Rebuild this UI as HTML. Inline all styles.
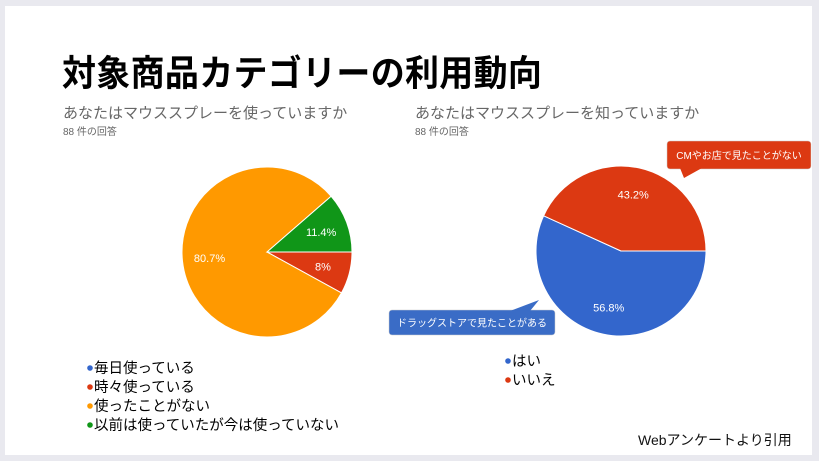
<!DOCTYPE html>
<html><head><meta charset="utf-8"><style>
html,body{margin:0;padding:0;}
body{width:819px;height:461px;background:#e9e9ef;position:relative;overflow:hidden;font-family:"Liberation Sans","Noto Sans CJK JP",sans-serif;}
#card{position:absolute;left:5px;top:6px;width:807px;height:449px;background:#fff;}
.t{position:absolute;white-space:nowrap;}
</style></head><body>
<div id="card"></div>
<div class="t" style="left:62px;top:46px;font-size:34px;font-weight:bold;color:#000;letter-spacing:0.3px;transform:scaleY(1.05);">対象商品カテゴリーの利用動向</div>
<div class="t" style="left:63px;top:102px;font-size:15px;color:#666;">あなたはマウススプレーを使っていますか</div>
<div class="t" style="left:63px;top:123px;font-size:10px;color:#666;">88 件の回答</div>
<div class="t" style="left:415px;top:102px;font-size:15px;color:#666;">あなたはマウススプレーを知っていますか</div>
<div class="t" style="left:415px;top:123px;font-size:10px;color:#666;">88 件の回答</div>
<svg id="chart" width="819" height="461" style="position:absolute;left:0;top:0"></svg>
<div class="t" style="left:638px;top:430px;font-size:14px;color:#111;">Webアンケートより引用</div>
<script>
const leftLabels=["毎日使っている","時々使っている","使ったことがない","以前は使っていたが今は使っていない"];
const leftValues=[0,8,80.7,11.4];
const leftColors=["#3366cc","#dc3912","#ff9900","#109618"];
const rightLabels=["はい","いいえ"];
const rightValues=[56.8,43.2];
const rightColors=["#3366cc","#dc3912"];
const NS="http://www.w3.org/2000/svg";
const svg=document.getElementById('chart');
function pie(cx,cy,r,vals,cols,name){
  const tot=vals.reduce((a,b)=>a+b,0);let a0=0;
  vals.forEach((v,i)=>{
    if(v<=0)return;
    const a1=a0+v/tot*2*Math.PI;
    const x0=cx+r*Math.cos(a0),y0=cy+r*Math.sin(a0),x1=cx+r*Math.cos(a1),y1=cy+r*Math.sin(a1);
    const p=document.createElementNS(NS,'path');
    p.setAttribute('d',`M${cx},${cy}L${x0},${y0}A${r},${r} 0 ${a1-a0>Math.PI?1:0} 1 ${x1},${y1}Z`);
    p.setAttribute('fill',cols[i]);p.setAttribute('stroke','#fff');p.setAttribute('stroke-width','1');
    
    
    svg.appendChild(p);
    const am=(a0+a1)/2;const lr=r*0.68;
    const t=document.createElementNS(NS,'text');
    t.setAttribute('x',cx+lr*Math.cos(am));t.setAttribute('y',cy+lr*Math.sin(am)+4);
    t.setAttribute('text-anchor','middle');t.setAttribute('fill','#fff');t.setAttribute('font-size','11');
    t.setAttribute('font-family','Liberation Sans, sans-serif');
    t.textContent=v+'%';
    
    
    svg.appendChild(t);
    a0=a1;
  });
}
pie(267,252,85,leftValues,leftColors,'left-pie');
pie(621,251,85,rightValues,rightColors,'right-pie');
function callout(x,y,w,h,tail,fill,text,name){
  const g=document.createElementNS(NS,'g');
  
  
  const r=document.createElementNS(NS,'rect');
  r.setAttribute('x',x);r.setAttribute('y',y);r.setAttribute('width',w);r.setAttribute('height',h);r.setAttribute('rx',3);r.setAttribute('fill',fill);r.setAttribute('stroke','#ccc');r.setAttribute('stroke-width','0.5');
  g.appendChild(r);
  const p=document.createElementNS(NS,'polygon');p.setAttribute('points',tail);p.setAttribute('fill',fill);g.appendChild(p);
  const t=document.createElementNS(NS,'text');t.setAttribute('x',x+w/2);t.setAttribute('y',y+h/2+4);t.setAttribute('text-anchor','middle');t.setAttribute('fill','#fff');t.setAttribute('font-size','10');t.setAttribute('font-family','Liberation Sans, Noto Sans CJK JP, sans-serif');t.textContent=text;g.appendChild(t);
  svg.appendChild(g);
}
callout(667,141,144,28,"680,168 684,178 702,168","#dc3912","CMやお店で見たことがない",'right-callout');
callout(389,310,166,25,"510,311 539,300 530,311","#3a6cc6","ドラッグストアで見たことがある",'left-callout');
function legend(x,y,labels,cols,name){
  labels.forEach((l,i)=>{
    const yy=y+i*19;
    const c=document.createElementNS(NS,'circle');c.setAttribute('cx',x);c.setAttribute('cy',yy-5);c.setAttribute('r',2.8);c.setAttribute('fill',cols[i]);
    
    
    svg.appendChild(c);
    const t=document.createElementNS(NS,'text');t.setAttribute('x',x+4);t.setAttribute('y',yy);t.setAttribute('font-size','14.5');t.setAttribute('fill','#000');t.setAttribute('font-family','Liberation Sans, Noto Sans CJK JP, sans-serif');t.textContent=l;
    
    
    svg.appendChild(t);
  });
}
legend(90,373,leftLabels,leftColors,'left-legend');
legend(508,366,rightLabels,rightColors,'right-legend');
</script>
</body></html>
